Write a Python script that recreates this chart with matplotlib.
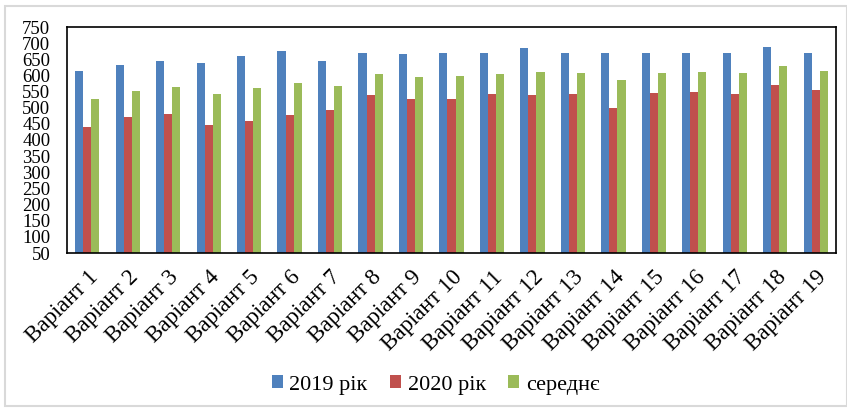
import matplotlib.pyplot as plt
import matplotlib.patches as mpatches
import numpy as np

plt.rcParams['font.family'] = ['Liberation Serif', 'DejaVu Serif']

# дані
variants = ['Варіант ' + str(i) for i in range(1, 20)]
rik_2019 = [614, 632, 644, 638, 659, 676, 644, 668, 665, 668,
            668, 684, 670, 670, 668, 670, 670, 687, 670]
rik_2020 = [440, 471, 481, 445, 460, 478, 493, 538, 528, 528,
            541, 539, 541, 500, 546, 550, 541, 569, 556]
serednie = [528, 553, 563, 542, 561, 577, 566, 604, 596, 598,
            604, 610, 607, 586, 607, 610, 607, 629, 614]
series_names = ['2019 рік', '2020 рік', 'середнє']
colors = ['#4F81BD', '#C0504D', '#9BBB59']

fig = plt.figure(figsize=(8.47, 4.09), dpi=100)
ax = fig.add_axes([67/847, 1-253/409, (836-67)/847, (253-27)/409])

x = np.arange(len(variants))
w = 0.2
for k, vals in enumerate([rik_2019, rik_2020, serednie]):
    ax.bar(x + (k-1)*w, np.array(vals) - 50, w, bottom=50, color=colors[k],
           label=series_names[k], edgecolor='none')

ax.set_xlim(-0.5, len(variants) - 0.5)
ax.set_ylim(50, 750)
ax.set_yticks(range(50, 751, 50))
ax.tick_params(axis='both', length=0, labelsize=13.5)
ax.tick_params(axis='y', pad=12)
ax.tick_params(axis='x', pad=10)
ax.set_xticks(x)
ax.set_xticklabels(variants, rotation=45, ha='right', va='top', rotation_mode='anchor', fontsize=16.5)
for s in ax.spines.values():
    s.set_linewidth(1.2)
    s.set_color('black')

ax.legend(loc='center', bbox_to_anchor=(0.5 + 12/847, (409-385)/409), bbox_transform=fig.transFigure,
          ncol=3, frameon=False, fontsize=16, handlelength=0.5, handleheight=0.5,
          handletextpad=0.3, columnspacing=1.0)

# рамка навколо
fig.patches.append(mpatches.Rectangle((5/847, 3/409), 1 - 5/847, 1 - 9/409, transform=fig.transFigure,
                                      fill=False, edgecolor='#d9d9d9', linewidth=1.5))

fig.savefig('out.png', dpi=100)
